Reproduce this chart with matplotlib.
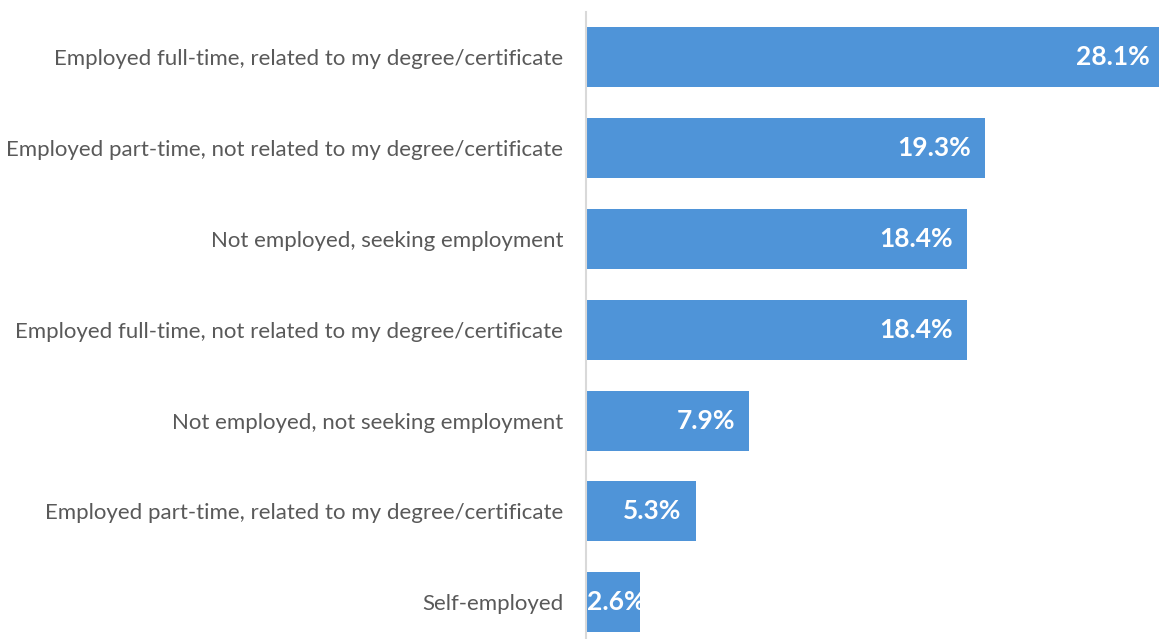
import matplotlib.pyplot as plt

# categorias y valores (porcentaje)
categorias = [
    'Employed full-time, related to my degree/certificate',
    'Employed part-time, not related to my degree/certificate',
    'Not employed, seeking employment',
    'Employed full-time, not related to my degree/certificate',
    'Not employed, not seeking employment',
    'Employed part-time, related to my degree/certificate',
    'Self-employed',
]
valores = [28.1, 19.3, 18.4, 18.4, 7.9, 5.3, 2.6]
etiquetas = ['28.1%', '19.3%', '18.4%', '18.4%', '7.9%', '5.3%', '2.6%']

plt.rcParams['font.family'] = ['Lato', 'DejaVu Sans']

fig = plt.figure(figsize=(11.59, 6.39), dpi=100)
ax = fig.add_axes([586 / 1159, -0.0135, 1 - 586 / 1159, 0.995])

y = list(range(len(categorias)))
ax.barh(y, valores, height=0.66, color='#4F94D8')
ax.set_xlim(0, 27.7)
ax.set_ylim(len(categorias) - 0.5, -0.5)

ax.set_yticks(y)
ax.set_yticklabels(categorias, fontsize=16, color='#595959')
ax.tick_params(axis='y', length=0, pad=16.5)
ax.set_xticks([])

for s in ['top', 'right', 'bottom']:
    ax.spines[s].set_visible(False)
ax.spines['left'].set_color('#D9D9D9')
ax.spines['left'].set_linewidth(1.5)

for yi, v, t in zip(y, valores, etiquetas):
    if v < 4:
        ax.annotate(t, (0, yi), xytext=(1, 0), textcoords='offset pixels',
                    ha='left', va='center', color='white', fontsize=19, fontweight='bold')
    else:
        ax.annotate(t, (min(v, 27.7), yi), xytext=(-14 if v < 27.7 else -9, 0), textcoords='offset pixels',
                    ha='right', va='center', color='white', fontsize=19, fontweight='bold')

fig.savefig('out.png', dpi=100)
